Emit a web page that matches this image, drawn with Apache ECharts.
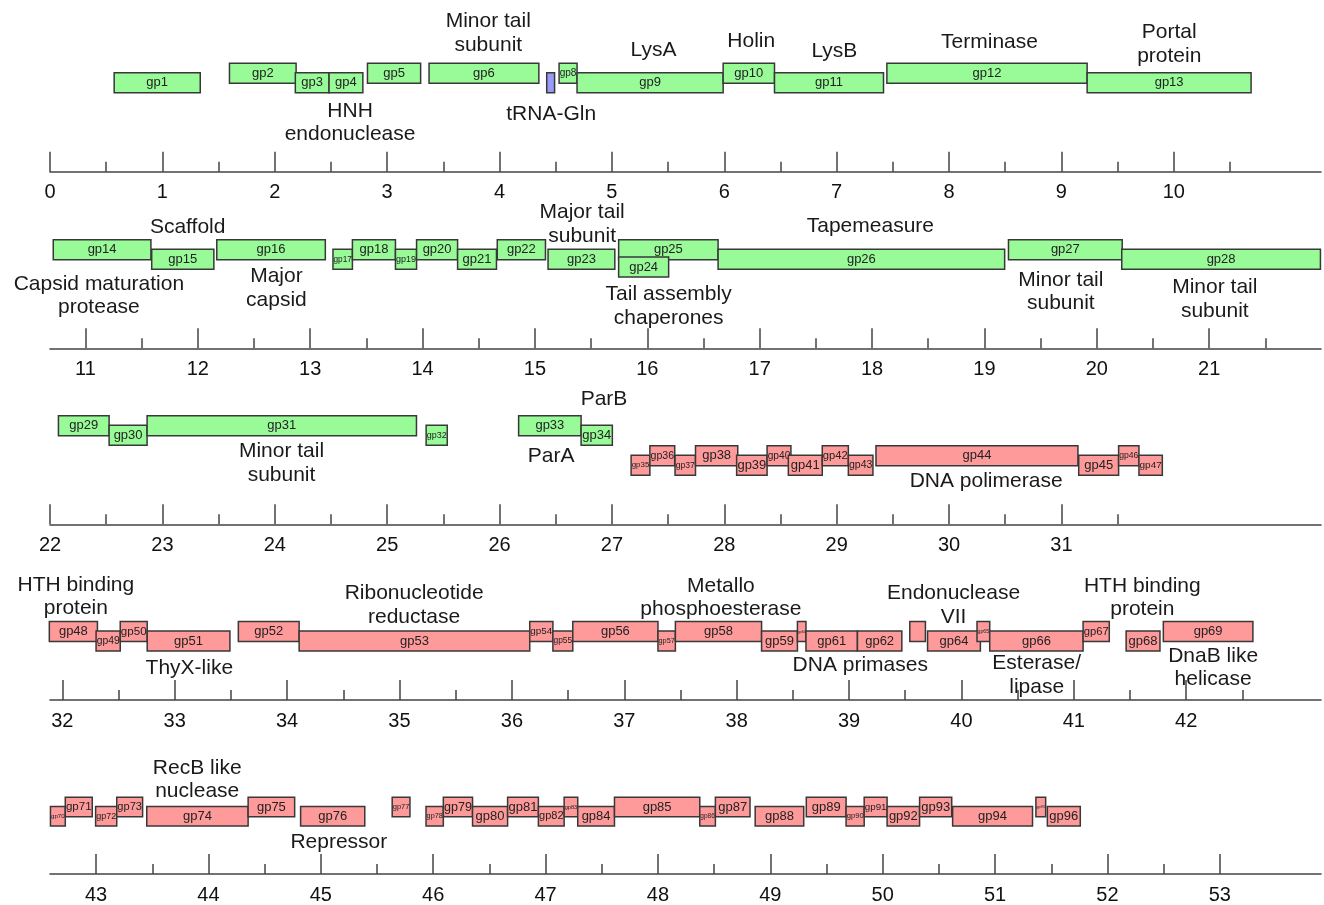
<!DOCTYPE html>
<html>
<head>
<meta charset="utf-8">
<script src="https://cdn.jsdelivr.net/npm/echarts@6/dist/echarts.min.js"></script>
<style>
html,body{margin:0;padding:0;background:#fff;}
#chart{width:1324px;height:905px;}
</style>
</head>
<body>
<div id="chart"></div>
<script>
// ---------------- DATA ----------------
// gene name, start (kb), end (kb), track, kind (g = green, r = red, t = tRNA), map row
const geneName  = ['gp1','gp2','gp3','gp4','gp5','gp6','','gp8','gp9','gp10','gp11','gp12','gp13',
  'gp14','gp15','gp16','gp17','gp18','gp19','gp20','gp21','gp22','gp23','gp25','gp24','gp26','gp27','gp28',
  'gp29','gp30','gp31','gp32','gp33','gp34','gp35','gp36','gp37','gp38','gp39','gp40','gp41','gp42','gp43','gp44','gp45','gp46','gp47',
  'gp48','gp49','gp50','gp51','gp52','gp53','gp54','gp55','gp56','gp57','gp58','gp59','gp60','gp61','gp62','','gp64','gp65','gp66','gp67','gp68','gp69',
  'gp70','gp71','gp72','gp73','gp74','gp75','gp76','gp77','gp78','gp79','gp80','gp81','gp82','gp83','gp84','gp85','gp86','gp87','gp88','gp89','gp90','gp91','gp92','gp93','gp94','gp95','gp96'];
const geneStart = [0.571,1.597,2.183,2.483,2.825,3.373,4.42,4.53,4.69,5.99,6.447,7.447,9.229,
  10.714,11.59,12.169,13.203,13.376,13.759,13.947,14.312,14.665,15.117,15.745,15.745,16.63,19.214,20.222,
  22.075,22.526,22.864,25.347,26.17,26.726,27.171,27.338,27.562,27.744,28.11,28.381,28.57,28.872,29.104,29.35,31.154,31.509,31.69,
  31.884,32.3,32.515,32.755,33.566,34.107,36.159,36.365,36.542,37.3,37.455,38.222,38.541,38.617,39.075,39.541,39.699,40.139,40.252,41.083,41.466,41.797,
  42.594,42.726,42.996,43.184,43.451,44.353,44.82,45.635,45.936,46.09,46.35,46.662,46.936,47.165,47.286,47.613,48.372,48.511,48.865,49.32,49.674,49.835,50.039,50.328,50.622,51.363,51.465];
const geneEnd   = [1.337,2.19,2.483,2.784,3.298,4.35,4.49,4.69,5.99,6.447,7.417,9.229,10.688,
  11.583,12.143,13.135,13.376,13.759,13.947,14.312,14.658,15.094,15.711,16.63,16.19,19.18,20.226,21.99,
  22.526,22.864,25.261,25.535,26.726,27.004,27.338,27.559,27.744,28.12,28.381,28.593,28.872,29.104,29.323,31.147,31.509,31.69,31.898,
  32.312,32.515,32.755,33.491,34.107,36.159,36.365,36.542,37.3,37.455,38.222,38.541,38.617,39.075,39.47,39.68,40.169,40.252,41.083,41.316,41.767,42.594,
  42.726,42.966,43.184,43.414,44.353,44.767,45.391,45.793,46.09,46.35,46.662,46.936,47.165,47.286,47.613,48.372,48.511,48.819,49.297,49.674,49.835,50.039,50.328,50.614,51.333,51.45,51.758];
const geneTrack = ['G2','G1','G2','G2','G1','G1','G2','G1','G2','G1','G2','G1','G2',
  'G1','G2','G1','G2','G1','G2','G1','G2','G1','G2','G1','G3','G2','G1','G2',
  'G1','G2','G1','G2','G1','G2','R2','R1','R2','R1','R2','R1','R2','R1','R2','R1','R2','R1','R2',
  'R1','R2','R1','R2','R1','R2','R1','R2','R1','R2','R1','R2','R1','R2','R2','R1','R2','R1','R2','R1','R2','R1',
  'R2','R1','R2','R1','R2','R1','R2','R1','R2','R1','R2','R1','R2','R1','R2','R1','R2','R1','R2','R1','R2','R1','R2','R1','R2','R1','R2'];
const geneKind  = ['g','g','g','g','g','g','t','g','g','g','g','g','g',
  'g','g','g','g','g','g','g','g','g','g','g','g','g','g','g',
  'g','g','g','g','g','g','r','r','r','r','r','r','r','r','r','r','r','r','r',
  'r','r','r','r','r','r','r','r','r','r','r','r','r','r','r','r','r','r','r','r','r','r',
  'r','r','r','r','r','r','r','r','r','r','r','r','r','r','r','r','r','r','r','r','r','r','r','r','r','r','r'];
const geneRow   = [0,0,0,0,0,0,0,0,0,0,0,0,0,
  1,1,1,1,1,1,1,1,1,1,1,1,1,1,1,
  2,2,2,2,2,2,2,2,2,2,2,2,2,2,2,2,2,2,2,
  3,3,3,3,3,3,3,3,3,3,3,3,3,3,3,3,3,3,3,3,3,3,
  4,4,4,4,4,4,4,4,4,4,4,4,4,4,4,4,4,4,4,4,4,4,4,4,4,4,4];

// function annotations: text, centre (kb), height above the axis (axis units), row
const annText = ['Minor tail\nsubunit','HNH\nendonuclease','tRNA-Gln','LysA','Holin','LysB','Terminase','Portal\nprotein',
  'Scaffold','Capsid maturation\nprotease','Major\ncapsid','Major tail\nsubunit','Tail assembly\nchaperones','Tapemeasure','Minor tail\nsubunit','Minor tail\nsubunit',
  'ParB','ParA','Minor tail\nsubunit','DNA polimerase',
  'HTH binding\nprotein','ThyX-like','Ribonucleotide\nreductase','Metallo\nphosphoesterase','DNA primases','Endonuclease\nVII','Esterase/\nlipase','HTH binding\nprotein','DnaB like\nhelicase',
  'RecB like\nnuclease','Repressor'];
const annKb = [3.90,2.67,4.46,5.37,6.24,6.98,8.36,9.96,
  11.91,11.12,12.70,15.42,16.19,17.985,19.68,21.05,
  26.93,26.46,24.06,30.33,
  32.12,33.13,35.13,37.86,39.10,39.93,40.67,41.61,42.24,
  43.90,45.16];
const annY = [138.4,49.2,57.7,121,130,120.7,129.2,127.4,
  120.8,52.5,60,124.3,42.3,121.6,56.6,49.1,
  125.1,68.5,61,43.5,
  103.3,31.7,95,102.5,35,95,25,102.5,32.5,
  96.7,32.3];
const annRow = [0,0,0,0,0,0,0,0, 1,1,1,1,1,1,1,1, 2,2,2,2, 3,3,3,3,3,3,3,3,3, 4,4];

// map rows: start of each row (kb) and axis tick labels
const rowStart = [0, 10.685, 22.0, 31.89, 42.59];
const rowSpan = 11.31;
const majorTicks = [
  [0,1,2,3,4,5,6,7,8,9,10],
  [11,12,13,14,15,16,17,18,19,20,21],
  [22,23,24,25,26,27,28,29,30,31],
  [32,33,34,35,36,37,38,39,40,41,42],
  [43,44,45,46,47,48,49,50,51,52,53]
];
const minorTicks = [
  [0.5,1.5,2.5,3.5,4.5,5.5,6.5,7.5,8.5,9.5,10.5],
  [11.5,12.5,13.5,14.5,15.5,16.5,17.5,18.5,19.5,20.5,21.5],
  [22.5,23.5,24.5,25.5,26.5,27.5,28.5,29.5,30.5,31.5],
  [32.5,33.5,34.5,35.5,36.5,37.5,38.5,39.5,40.5,41.5,42.5],
  [43.5,44.5,45.5,46.5,47.5,48.5,49.5,50.5,51.5,52.5]
];

// ---------------- LAYOUT / STYLE ----------------
const FONT = 'Liberation Sans, Arial, Helvetica, sans-serif';
const axisY = [171.7, 348.3, 524.3, 700, 876.7];
const GRID_H = 120;
const trackTop = {G1:108.5, G2:99, G3:91.3, R1:78.5, R2:69};
const BOX_H = 20;
const fillOf = {g:'#99fb98', r:'#ff9a9a', t:'#9a9af8'};
const STROKE = '#383838';

const grids = [], xAxes = [], yAxes = [], series = [];
for (let r = 0; r < 5; r++) {
  grids.push({left: 50, width: 1271, top: axisY[r] - GRID_H, height: GRID_H});
  const mn = rowStart[r], mx = rowStart[r] + rowSpan;
  xAxes.push({
    type: 'value', gridIndex: r, min: mn, max: mx, position: 'bottom',
    axisLine: {show: true, onZero: false, lineStyle: {color: '#444', width: 1.6}},
    axisTick: {show: true, inside: true, length: 20, customValues: majorTicks[r], lineStyle: {color: '#444', width: 1.5}},
    axisLabel: {show: true, customValues: majorTicks[r], margin: 11, fontSize: 20, color: '#111', fontFamily: FONT},
    splitLine: {show: false}
  });
  xAxes.push({
    type: 'value', gridIndex: r, min: mn, max: mx, position: 'bottom',
    axisLine: {show: false, onZero: false},
    axisTick: {show: true, inside: true, length: 10, customValues: minorTicks[r], lineStyle: {color: '#444', width: 1.5}},
    axisLabel: {show: false},
    splitLine: {show: false}
  });
  yAxes.push({type: 'value', gridIndex: r, min: 0, max: GRID_H, show: false});

  const gData = [];
  for (let i = 0; i < geneName.length; i++) {
    if (geneRow[i] === r) gData.push([geneStart[i], Math.min(geneEnd[i], mx), trackTop[geneTrack[i]], i]);
  }
  series.push({
    type: 'custom', xAxisIndex: 2 * r, yAxisIndex: r, silent: true, clip: false,
    encode: {x: [0, 1], y: 2},
    data: gData,
    renderItem: function (params, api) {
      const idx = api.value(3);
      const p0 = api.coord([api.value(0), api.value(2)]);
      const p1 = api.coord([api.value(1), api.value(2)]);
      const h = api.size([0, BOX_H])[1];
      const w = p1[0] - p0[0];
      const children = [{
        type: 'rect',
        shape: {x: p0[0], y: p0[1], width: w, height: h},
        style: {fill: fillOf[geneKind[idx]], stroke: STROKE, lineWidth: 1.5}
      }];
      const name = geneName[idx];
      if (name) {
        const fs = Math.max(4, Math.min(13, (w - 1) / (name.length * 0.56)));
        children.push({
          type: 'text',
          style: {text: name, x: p0[0] + w / 2, y: p0[1] + h / 2, align: 'center', verticalAlign: 'middle',
            fontSize: fs, fontFamily: FONT, fill: '#222'}
        });
      }
      return {type: 'group', children: children};
    }
  });

  const aData = [];
  for (let i = 0; i < annText.length; i++) {
    if (annRow[i] === r) aData.push([annKb[i], annY[i], i]);
  }
  series.push({
    type: 'custom', xAxisIndex: 2 * r, yAxisIndex: r, silent: true, clip: false,
    encode: {x: 0, y: 1},
    data: aData,
    renderItem: function (params, api) {
      const p = api.coord([api.value(0), api.value(1)]);
      return {
        type: 'text',
        style: {text: annText[api.value(2)], x: p[0], y: p[1], align: 'center', verticalAlign: 'middle',
          fontSize: 21, lineHeight: 23.5, fontFamily: FONT, fill: '#1a1a1a'}
      };
    }
  });
}

const chart = echarts.init(document.getElementById('chart'), null, {renderer: 'canvas'});
chart.setOption({
  animation: false,
  backgroundColor: '#ffffff',
  grid: grids,
  xAxis: xAxes,
  yAxis: yAxes,
  series: series
});
</script>
</body>
</html>
